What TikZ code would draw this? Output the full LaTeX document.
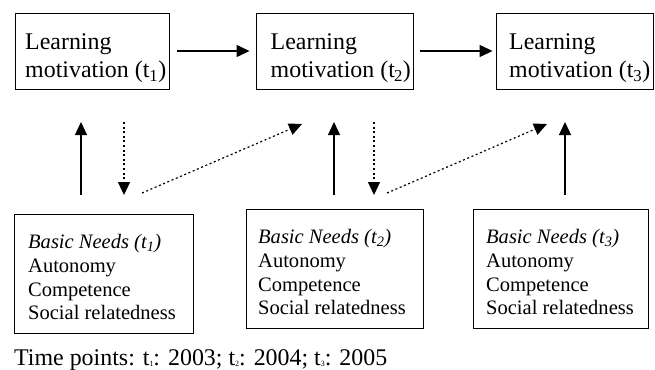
\documentclass[tikz,border=0pt]{standalone}
\usepackage{fontspec}
\setmainfont{Liberation Serif}
\usetikzlibrary{arrows.meta}
\begin{document}
\begin{tikzpicture}[x=1bp,y=-1bp,
  framebox/.style={draw, line width=0.9bp, inner sep=0pt},
  toptext/.style={anchor=north west, inner sep=0pt, align=left, font=\fontsize{24}{28}\selectfont},
  needtext/.style={anchor=north west, inner sep=0pt, align=left, font=\fontsize{20.6}{24}\selectfont},
  solidarrow/.style={line width=1.2bp, -{Triangle[length=13bp,width=12bp]}},
  dotarrow/.style={line width=1.2bp, dash pattern=on 2bp off 2.6bp, -{Triangle[length=13bp,width=12bp]}}]
\useasboundingbox (0,0) rectangle (655,369);
% top boxes
\node[framebox, minimum width=154bp, minimum height=76bp] (m1) at (92,51) {};
\node[framebox, minimum width=157bp, minimum height=76bp] (m2) at (334.5,51) {};
\node[framebox, minimum width=157bp, minimum height=76bp] (m3) at (574.5,51) {};
\node[toptext] (m1t) at (25,33.6) {Learning\\motivation (t\textsubscript{1})};
\node[toptext] (m2t) at (270.5,33.6) {Learning\\motivation (t\kern-0.8bp\textsubscript{2})};
\node[toptext] (m3t) at (509,33.6) {Learning\\motivation (t\textsubscript{3})};
% bottom boxes
\node[framebox, minimum width=179bp, minimum height=119bp] (b1) at (103.5,273.5) {};
\node[framebox, minimum width=177bp, minimum height=119bp] (b2) at (334.5,268.5) {};
\node[framebox, minimum width=175bp, minimum height=119bp] (b3) at (560.5,268.5) {};
\node[needtext] (b1t) at (28,233.8) {\textit{Basic Needs (t\textsubscript{1})}\\Autonomy\\Competence\\Social relatedness};
\node[needtext] (b2t) at (258,228.8) {\textit{Basic Needs (t\textsubscript{2})}\\Autonomy\\Competence\\Social relatedness};
\node[needtext] (b3t) at (486,228.8) {\textit{Basic Needs (t\textsubscript{3})}\\Autonomy\\Competence\\Social relatedness};
% footnote
\node[anchor=base west, inner sep=0pt, font=\fontsize{24}{28}\selectfont] (tp) at (14,365)
  {Time points: t\raisebox{-1bp}{\fontsize{8}{8}\selectfont 1}: 2003; t\raisebox{-1bp}{\fontsize{8}{8}\selectfont 2}: 2004; t\raisebox{-1bp}{\fontsize{8}{8}\selectfont 3}: 2005};
% top arrows
\draw[solidarrow, shorten <=8bp, shorten >=6bp] (m1.east) -- (m2.west);
\draw[solidarrow, shorten <=7bp, shorten >=3bp] (m2.east) -- (m3.west);
% arrow end points
\coordinate (s1a) at (81,195);  \coordinate (s1b) at (81,122);
\coordinate (d1a) at (124,122); \coordinate (d1b) at (124,195);
\coordinate (g1a) at (142,193); \coordinate (g1b) at (302,124);
\coordinate (s2a) at (334,195); \coordinate (s2b) at (334,122);
\coordinate (d2a) at (374,122); \coordinate (d2b) at (374,195);
\coordinate (g2a) at (387,193); \coordinate (g2b) at (547,124);
\coordinate (s3a) at (565,195); \coordinate (s3b) at (565,122);
\draw[solidarrow] (s1a) -- (s1b);
\draw[dotarrow] (d1a) -- (d1b);
\draw[dotarrow] (g1a) -- (g1b);
\draw[solidarrow] (s2a) -- (s2b);
\draw[dotarrow] (d2a) -- (d2b);
\draw[dotarrow] (g2a) -- (g2b);
\draw[solidarrow] (s3a) -- (s3b);
\end{tikzpicture}
\end{document}
